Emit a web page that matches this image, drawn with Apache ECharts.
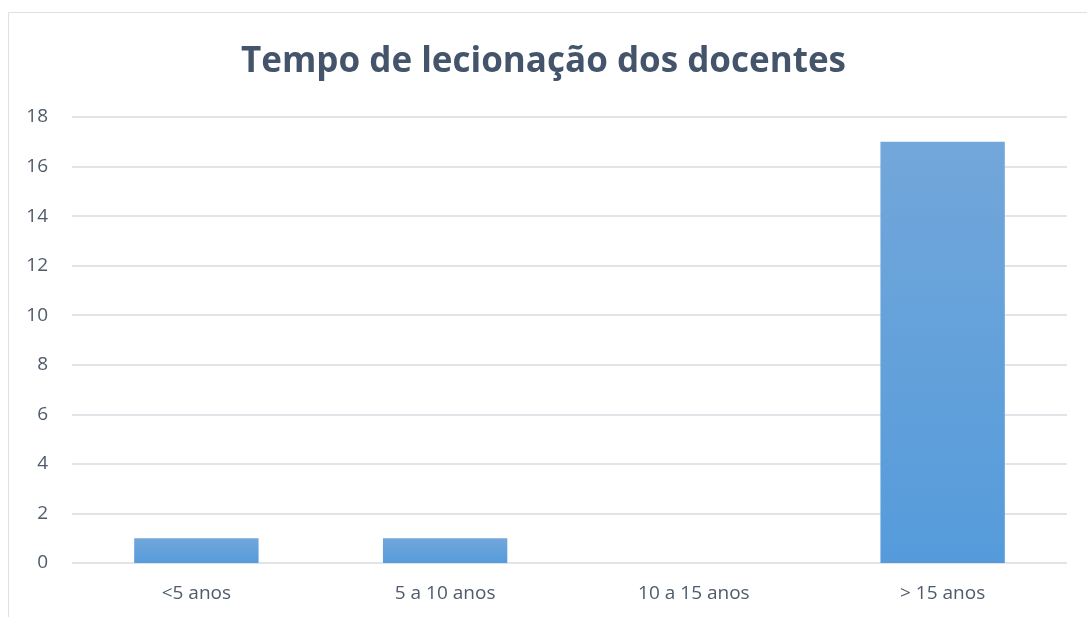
<!DOCTYPE html>
<html>
<head>
<meta charset="utf-8">
<script src="https://cdn.jsdelivr.net/npm/echarts@6/dist/echarts.min.js"></script>
<style>
  html, body { margin: 0; padding: 0; background: #fff; }
  #chart { width: 1087px; height: 617px; }
</style>
</head>
<body>
<div id="chart"></div>
<script>
const title = 'Tempo de lecionação dos docentes';
const categories = ['<5 anos', '5 a 10 anos', '10 a 15 anos', '> 15 anos'];
const values = [1, 1, 0, 17];
const yMin = 0;
const yMax = 18;
const yStep = 2;

const chart = echarts.init(document.getElementById('chart'));
const labelColor = '#4f5b6b';
const gridColor = '#e1e5ea';

const option = {
  backgroundColor: '#fff',
  animation: false,
  graphic: [
    {
      type: 'rect',
      shape: { x: 8.5, y: 12.5, width: 1200, height: 800 },
      style: { fill: 'none', stroke: '#dde1e6', lineWidth: 1 },
      silent: true
    }
  ],
  title: {
    text: title,
    left: 'center',
    top: 40,
    textStyle: {
      fontFamily: 'Open Sans',
      fontWeight: 'bold',
      fontSize: 35,
      color: '#44546a'
    }
  },
  grid: {
    left: 72,
    right: 20,
    top: 117,
    bottom: 54,
    containLabel: false
  },
  xAxis: {
    type: 'category',
    data: categories,
    axisLine: { show: false },
    axisTick: { show: false },
    axisLabel: {
      color: labelColor,
      fontFamily: 'Open Sans',
      fontSize: 19,
      margin: 21
    }
  },
  yAxis: {
    type: 'value',
    min: yMin,
    max: yMax,
    interval: yStep,
    axisLine: { show: false },
    axisTick: { show: false },
    axisLabel: {
      color: labelColor,
      fontFamily: 'Open Sans',
      fontSize: 19,
      margin: 24
    },
    splitLine: { lineStyle: { color: gridColor, width: 2 } }
  },
  series: [
    {
      type: 'bar',
      data: values,
      barWidth: '50%',
      itemStyle: {
        color: new echarts.graphic.LinearGradient(0, 0, 0, 1, [
          { offset: 0, color: '#72a7da' },
          { offset: 1, color: '#559bdb' }
        ])
      }
    }
  ]
};

chart.setOption(option);
</script>
</body>
</html>
